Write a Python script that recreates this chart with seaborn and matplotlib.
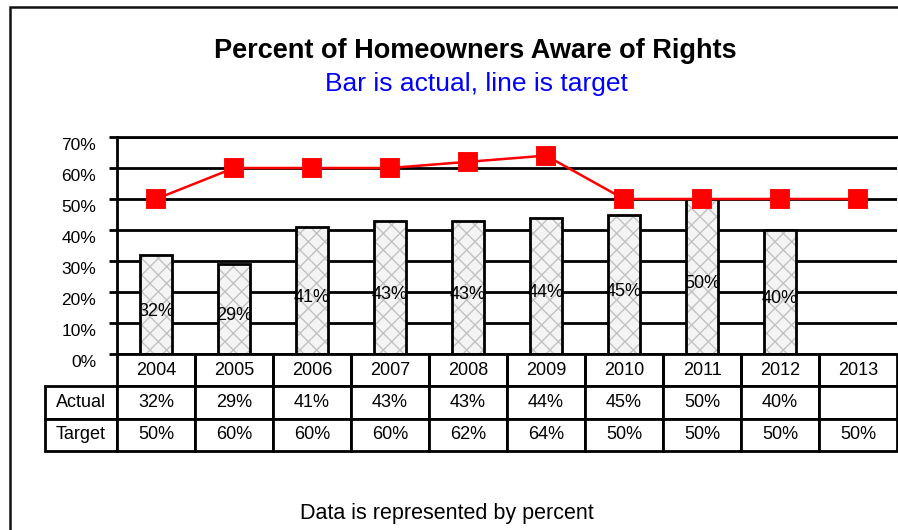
import pandas as pd
import numpy as np
import matplotlib
matplotlib.use('Agg')
import matplotlib.pyplot as plt
import matplotlib.transforms as mtransforms
from matplotlib.patches import Rectangle
import seaborn as sns

# data
years = ['2004', '2005', '2006', '2007', '2008', '2009', '2010', '2011', '2012', '2013']
actual = [32, 29, 41, 43, 43, 44, 45, 50, 40, np.nan]
target = [50, 60, 60, 60, 62, 64, 50, 50, 50, 50]
y_ticks = [0, 10, 20, 30, 40, 50, 60, 70]

df = pd.DataFrame({'Year': years, 'Actual': actual, 'Target': target})

sns.set_style('white')
plt.rcParams['font.family'] = ['Liberation Sans', 'DejaVu Sans']
plt.rcParams['text.color'] = 'black'
plt.rcParams['ytick.color'] = 'black'
plt.rcParams['ytick.labelcolor'] = 'black'

fig = plt.figure(figsize=(8.98, 5.30), dpi=100)
ax = fig.add_axes([117/898, 1 - 354/530, 780/898, 217/530])

# bars with light crosshatch, then black outlines on top
sns.barplot(data=df, x='Year', y='Actual', order=years, color='#f4f4f4',
            edgecolor='#c2c2c2', linewidth=0, hatch='xx', width=0.41,
            saturation=1, errorbar=None, ax=ax, zorder=2)
for p in list(ax.patches):
    if np.isnan(p.get_height()):
        continue
    ax.add_patch(Rectangle(p.get_xy(), p.get_width(), p.get_height(), fill=False,
                           edgecolor='black', linewidth=2, zorder=3))

labels = [f'{v:.0f}%' for v in actual if not np.isnan(v)]
texts = ax.bar_label(ax.containers[0], labels=labels, label_type='center', fontsize=13,
                     color='black', zorder=4)
for t in texts:
    t.xyann = (0, -5)  # labels sit a bit below the bar middle

# target line
sns.pointplot(data=df, x='Year', y='Target', order=years, color='#ff0000', markers='s',
              markersize=13.5, linewidth=1.8, errorbar=None, ax=ax, zorder=5)
for coll in ax.collections:
    coll.set_zorder(5)
for ln in ax.lines:
    ln.set_zorder(5)

ax.set_xlim(-0.5, len(years) - 0.5)
ax.set_ylim(0, 70)
ax.set_yticks(y_ticks)
ax.set_yticklabels([f'{t}%' for t in y_ticks], fontsize=12.5, color='black')
ax.yaxis.grid(True, color='black', linewidth=2)
ax.set_axisbelow(True)
ax.set_xticks([])
ax.set_xlabel('')
ax.set_ylabel('')
ax.tick_params(axis='y', direction='out', length=6, width=2, pad=9, left=True)
for side in ['left', 'bottom', 'top']:
    ax.spines[side].set_color('black')
    ax.spines[side].set_linewidth(2)
ax.spines['right'].set_visible(False)
offset = mtransforms.ScaledTranslation(0, -5/72, fig.dpi_scale_trans)
for lbl in ax.get_yticklabels():
    lbl.set_transform(lbl.get_transform() + offset)

# data table under the axis
cell_text = [[''] + years,
             ['Actual'] + ['' if np.isnan(v) else f'{v:.0f}%' for v in actual],
             ['Target'] + [f'{v}%' for v in target]]
col_w = [72] + [78] * len(years)
tot = sum(col_w)
tbl = ax.table(cellText=cell_text, colWidths=[w / tot for w in col_w], cellLoc='center',
               bbox=[-72/780, -97/217, tot/780, 97/217])
tbl.auto_set_font_size(False)
tbl.set_fontsize(13)
for (r, c), cell in tbl.get_celld().items():
    cell.set_linewidth(2)
    cell.set_edgecolor('black')
    cell.get_text().set_color('black')
    if r == 0 and c == 0:
        cell.visible_edges = ''
    elif r == 0:
        cell.visible_edges = 'BLR'

# titles and footer
fig.text(475/898, 1 - 51/530, 'Percent of Homeowners Aware of Rights', ha='center', va='center',
         fontsize=19.5, fontweight='bold', color='black')
fig.text(476/898, 1 - 84/530, 'Bar is actual, line is target', ha='center', va='center',
         fontsize=19, color='#0000ff')
fig.text(447/898, 1 - 513/530, 'Data is represented by percent', ha='center', va='center',
         fontsize=15.5, color='black')

# outer chart frame
fig.patches.append(Rectangle((10/898, -0.1), 1.2, 1.1 - 7/530, transform=fig.transFigure,
                             fill=False, edgecolor='#111111', linewidth=1.8))

fig.savefig('out.png', dpi=100)
